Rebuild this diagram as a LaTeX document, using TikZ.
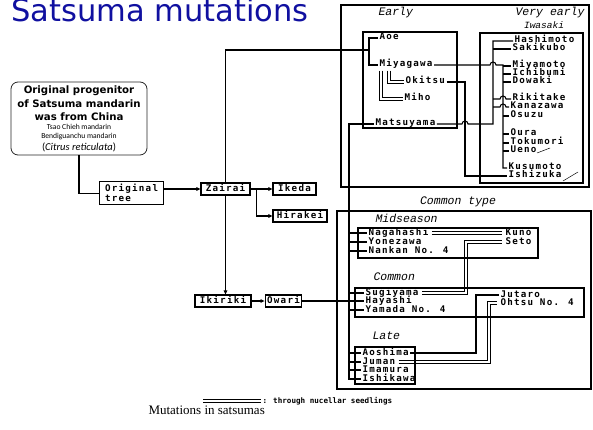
\documentclass[tikz,border=0pt]{standalone}
\usepackage{fontspec}
\setmainfont{DejaVu Sans}
\newfontfamily\mono[LetterSpace=13.5]{DejaVu Sans Mono}
\newfontfamily\monol{DejaVu Sans Mono}
\newfontfamily\monoi{Liberation Mono}
\newfontfamily\titlefont{DejaVu Sans}
\newfontfamily\smallfont{Carlito}
\newfontfamily\serifcap{Liberation Serif}
\usetikzlibrary{arrows.meta,calc}
\definecolor{titleblue}{RGB}{16,16,160}
\tikzset{
  lbl/.style={font=\mono\bfseries\fontsize{9.2}{10}\selectfont, inner xsep=1pt, inner ysep=0pt, anchor=west, text height=6pt, text depth=2pt},
  tbox/.style={draw, line width=1.1pt, font=\mono\bfseries\fontsize{9.2}{10}\selectfont, inner xsep=2pt, inner ysep=2pt, text height=6pt, text depth=2pt},
  ital/.style={font=\monoi\itshape\fontsize{11.5}{12}\selectfont, inner sep=0pt, anchor=west},
  bt/.style={font=\bfseries\fontsize{10.2}{12}\selectfont, inner sep=0pt},
  st/.style={font=\smallfont\fontsize{7.6}{9}\selectfont, inner sep=0pt},
  frame/.style={line width=1.1pt},
  dl/.style={line width=0.8pt},
  arr/.style={-{Triangle[length=4pt,width=3.5pt]}},
  hand/.style={line width=0.5pt}
}
\begin{document}
\begin{tikzpicture}[x=1pt,y=-1pt,line width=1.05pt]
\useasboundingbox (0,0) rectangle (593,430);

% title
\node[anchor=base west, inner sep=0pt, font=\titlefont\fontsize{30.5}{32}\selectfont, text=titleblue] (title) at (11,22) {Satsuma mutations};

% progenitor box
\node[draw=black!85, line width=0.8pt, rounded corners=7pt, minimum width=136pt, minimum height=73pt] (prog) at (79,118.5) {};
\node[bt] (p1) at (79,91) {Original progenitor};
\node[bt] (p2) at (79,104) {of Satsuma mandarin};
\node[bt] (p3) at (79,117) {was from China};
\node[st] (p4) at (79,127) {Tsao Chieh mandarin};
\node[st] (p5) at (79,137) {Bendiguanchu mandarin};
\node[font=\smallfont\fontsize{10.5}{12}\selectfont, inner sep=0pt] (p6) at (79,147) {(\textit{Citrus reticulata})};

% chain boxes
\node[draw, line width=1.1pt, inner xsep=2pt, inner ysep=1.5pt, align=left, minimum width=64pt, minimum height=23pt, anchor=north west, font=\mono\bfseries\fontsize{9.2}{9.5}\selectfont] (orig) at (99,181) {Original\\tree};
\node[tbox, minimum width=49pt] (zairai) at (225.5,189) {Zairai};
\node[tbox, minimum width=43pt] (ikeda) at (294.5,189) {Ikeda};
\node[tbox, minimum width=54pt] (hirakei) at (300,216) {Hirakei};
\node[tbox, minimum width=56pt] (ikiriki) at (223,301) {Ikiriki};
\node[tbox, minimum width=35pt] (owari) at (283.5,301) {Owari};

% frames
\draw[frame] (341,5) rectangle (589,187);
\draw[frame] (363,32) rectangle (457,128);
\draw[frame] (480,33) rectangle (583,183);
\draw[frame] (337,211) rectangle (591,389);
\draw[frame] (358,228) rectangle (538,258);
\draw[frame] (355,288) rectangle (584,317);
\draw[frame] (355,347) rectangle (415,384);

% italic labels
\node[ital] (early) at (378,13) {Early};
\node[ital] (vearly) at (515,13) {Very early};
\node[font=\monoi\itshape\fontsize{9.5}{10}\selectfont, inner sep=0pt] (iwasaki) at (544,25) {Iwasaki};
\node[ital, anchor=center] (ctype) at (458,202) {Common type};
\node[ital] (midseason) at (375,218) {Midseason};
\node[ital] (common) at (373,277) {Common};
\node[ital] (late) at (372,336) {Late};

% early
\node[lbl] (aoe) at (378,38) {Aoe};
\node[lbl] (miyagawa) at (378,65) {Miyagawa};
\node[lbl] (okitsu) at (404,82) {Okitsu};
\node[lbl] (miho) at (403,99) {Miho};
\node[lbl] (matsuyama) at (374,124) {Matsuyama};

% very early
\node[lbl] (hashimoto) at (513,41) {Hashimoto};
\node[lbl] (sakikubo) at (511,49) {Sakikubo};
\node[lbl] (miyamoto) at (511,66) {Miyamoto};
\node[lbl] (ichibumi) at (511,74) {Ichibumi};
\node[lbl] (dowaki) at (511,82) {Dowaki};
\node[lbl] (rikitake) at (511,99) {Rikitake};
\node[lbl] (kanazawa) at (509,107) {Kanazawa};
\node[lbl] (osuzu) at (509,116) {Osuzu};
\node[lbl] (oura) at (509,134) {Oura};
\node[lbl] (tokumori) at (509,143) {Tokumori};
\node[lbl] (ueno) at (509,151) {Ueno};
\node[lbl] (kusumoto) at (507,168) {Kusumoto};
\node[lbl] (ishizuka) at (507,176) {Ishizuka};

% common type
\node[lbl] (nagahashi) at (367,233) {Nagahashi};
\node[lbl] (yonezawa) at (367,242) {Yonezawa};
\node[lbl] (nankan) at (367,251) {Nankan No. 4};
\node[lbl] (kuno) at (504,233) {Kuno};
\node[lbl] (seto) at (504,242) {Seto};
\node[lbl] (sugiyama) at (364,293) {Sugiyama};
\node[lbl] (hayashi) at (364,301) {Hayashi};
\node[lbl] (yamada) at (364,310) {Yamada No. 4};
\node[lbl] (jutaro) at (499,295) {Jutaro};
\node[lbl] (ohtsu) at (499,303) {Ohtsu No. 4};
\node[lbl] (aoshima) at (361,353) {Aoshima};
\node[lbl] (juman) at (361,362) {Juman};
\node[lbl] (imamura) at (361,370) {Imamura};
\node[lbl] (ishikawa) at (361,379) {Ishikawa};

% coordinates of buses
\coordinate (aoeJ) at (369,50);
\coordinate (mv) at (503,0);
\coordinate (sv) at (493,0);
\coordinate (ov) at (465,0);
\coordinate (bus) at (349,0);

% chain connectors
\draw (prog.south) |- (orig.west);
\draw[arr] (orig.east |- zairai.west) -- (zairai.west);
\draw[arr] (zairai.east) -- (ikeda.west);
\coordinate (zr) at ($(zairai.east)+(6,0)$);
\draw[arr] (zr) |- (hirakei.west);
\draw (aoe.west) -| (aoeJ) |- (miyagawa.west);
\draw (aoeJ) -| (zairai.north);
\draw[arr] (zairai.south) -- (zairai.south |- ikiriki.north);
\draw[arr] (ikiriki.east) -- (owari.west);
\draw (owari.east) -- (hayashi.west);

% early connectors
\draw (okitsu.east) -| (ov |- ishizuka.west) -- (ishizuka.west);
\draw (miyagawa.east) -- ($(sv |- miyagawa.east)+(-3,0)$) arc[start angle=180,end angle=0,radius=3pt] -- (mv |- miyagawa.east) -- (mv |- kusumoto.west) -- (kusumoto.west);
\foreach \n in {miyamoto,ichibumi,dowaki,osuzu,oura,tokumori,ueno}
  \draw (mv |- \n.west) -- (\n.west);
\draw (matsuyama.east) -- ($(ov |- matsuyama.east)+(-3,0)$) arc[start angle=180,end angle=0,radius=3pt] -- (sv |- matsuyama.east) -- (sv |- hashimoto.west) -- (hashimoto.west);
\draw (sv |- sakikubo.west) -- (sakikubo.west);
\foreach \n in {rikitake,kanazawa}
  \draw (sv |- \n.west) -- ($(mv |- \n.west)+(-3,0)$) arc[start angle=180,end angle=0,radius=3pt] -- (\n.west);

% common type connectors
\draw (matsuyama.west) -| (bus |- ishikawa.west) -- (ishikawa.west);
\foreach \n in {nagahashi,yonezawa,nankan,sugiyama,yamada,aoshima,juman,imamura}
  \draw (bus |- \n.west) -- (\n.west);
\draw (aoshima.east) -| ([xshift=-23pt]jutaro.west) -- (jutaro.west);

% legend text
\coordinate (lg) at (203,401);
\node[anchor=west, font=\monol\bfseries\fontsize{7.6}{9}\selectfont, inner sep=1pt] (legtxt) at (261,401) {: through nucellar seedlings};

% double lines (nucellar seedlings): two parallel strokes
\foreach \d in {-1.2,1.2}{
  \pgfmathsetmacro\xm{3+\d}
  \pgfmathsetmacro\xo{11+\d}
  \pgfmathsetmacro\xs{-38+\d}
  \pgfmathsetmacro\xj{-10+\d}
  \pgfmathsetmacro\ne{0-(\d)}
  \draw[dl] ([xshift=\xm pt,yshift=-1pt]miyagawa.south west) |- ([yshift=\d pt]miho.west);
  \draw[dl] ([xshift=\xo pt,yshift=-1pt]miyagawa.south west) |- ([yshift=\d pt]okitsu.west);
  \draw[dl] ([xshift=2pt,yshift=\d pt]nagahashi.east) -- ([xshift=-2pt,yshift=\d pt]kuno.west);
  \draw[dl] ([xshift=2pt,yshift=\ne pt]sugiyama.east) -| ([xshift=\xs pt,yshift=\ne pt]seto.west) -- ([xshift=-2pt,yshift=\ne pt]seto.west);
  \draw[dl] ([xshift=2pt,yshift=\ne pt]juman.east) -| ([xshift=\xj pt,yshift=\ne pt]ohtsu.west) -- ([xshift=-2pt,yshift=\ne pt]ohtsu.west);
  \draw[dl] ([yshift=\d pt]lg) -- ([yshift=\d pt]legtxt.west);
}

% hand marks
\draw[hand] (537,153) -- (550,148);
\draw[hand] (563,181) -- (578,172);

% caption
\node[anchor=west, font=\serifcap\fontsize{13}{14}\selectfont, inner sep=0pt] (cap) at (148,410) {Mutations in satsumas};
\end{tikzpicture}
\end{document}
